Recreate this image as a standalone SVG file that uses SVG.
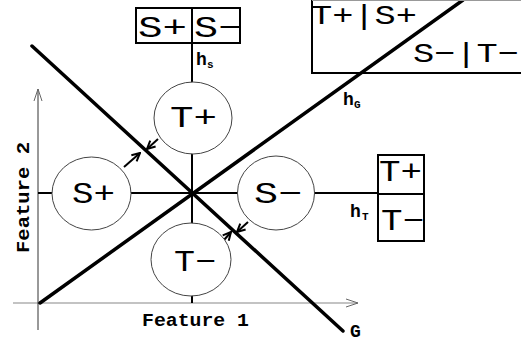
<svg xmlns="http://www.w3.org/2000/svg" width="521" height="341" viewBox="0 0 521 341">
<defs>
<style>
.t{font-family:"Liberation Mono","DejaVu Sans Mono",monospace;fill:#000}
.big{font-size:30px}
.top{font-size:28px}
.lbl{font-size:18px;font-weight:bold}
.sub{font-size:11px;font-weight:bold}
.bx{fill:#fff;stroke:#000;stroke-width:2}
.cir{fill:#fff;stroke:#444;stroke-width:1}
.thick{stroke:#000;stroke-width:2;fill:none}
.diag{stroke:#000;stroke-width:3.5;fill:none;stroke-linecap:round}
.axis{stroke:#888;stroke-width:1.2;fill:none}
.axisv{stroke:#333;stroke-width:1;fill:none}
.arr{stroke:#000;stroke-width:2;fill:none}
</style>
<marker id="ah" markerWidth="10" markerHeight="10" refX="9" refY="5" orient="auto" markerUnits="userSpaceOnUse">
<path d="M1,1 L9,5 L1,9" fill="none" stroke="#000" stroke-width="2"/>
</marker>
<marker id="axh" markerWidth="14" markerHeight="10" refX="13" refY="5" orient="auto" markerUnits="userSpaceOnUse">
<path d="M1,1 L13,5 L1,9" fill="none" stroke="#666" stroke-width="1"/>
</marker>
</defs>
<rect width="521" height="341" fill="#fff"/>
<g id="axes">
<line class="axis" x1="13" y1="303" x2="358" y2="303" marker-end="url(#axh)"/>
<line class="axisv" x1="38" y1="330" x2="38" y2="89" marker-end="url(#axh)"/>
<text class="t lbl" x="142" y="326" textLength="107" lengthAdjust="spacingAndGlyphs">Feature 1</text>
<text class="t lbl" transform="translate(29,197) rotate(-90)" x="-56" y="0" textLength="111" lengthAdjust="spacingAndGlyphs">Feature 2</text>
</g>
<g id="connectors">
<line class="thick" x1="38" y1="193" x2="378" y2="193"/>
<line class="thick" x1="192" y1="43" x2="192" y2="303"/>
<line class="diag" x1="32" y1="46" x2="343" y2="331"/>
<line class="diag" x1="40" y1="303" x2="463" y2="0"/>
<line class="arr" x1="124" y1="167" x2="140" y2="153" marker-end="url(#ah)"/>
<line class="arr" x1="158" y1="139" x2="147" y2="149" marker-end="url(#ah)"/>
<line class="arr" x1="248" y1="222" x2="237" y2="232" marker-end="url(#ah)"/>
<line class="arr" x1="224" y1="240" x2="231" y2="232" marker-end="url(#ah)"/>
</g>
<g id="node-Tplus">
<ellipse class="cir" cx="193" cy="118" rx="39" ry="36"/>
<text class="t big" x="170" y="127" textLength="47" lengthAdjust="spacingAndGlyphs">T+</text>
</g>
<g id="node-Splus">
<ellipse class="cir" cx="91.5" cy="193.5" rx="39.5" ry="36.5"/>
<text class="t big" x="72" y="203" textLength="43" lengthAdjust="spacingAndGlyphs">S+</text>
</g>
<g id="node-Sminus">
<ellipse class="cir" cx="276" cy="193" rx="38.5" ry="37"/>
<text class="t big" x="254" y="203" textLength="48" lengthAdjust="spacingAndGlyphs">S−</text>
</g>
<g id="node-Tminus">
<ellipse class="cir" cx="191" cy="259.5" rx="40" ry="36.5"/>
<text class="t big" x="174" y="271" textLength="42" lengthAdjust="spacingAndGlyphs">T−</text>
</g>
<g id="node-hS">
<rect class="bx" x="136" y="8" width="104" height="35"/>
<line class="thick" x1="192" y1="8" x2="192" y2="43"/>
<text class="t big" x="138" y="37" textLength="49" lengthAdjust="spacingAndGlyphs">S+</text>
<text class="t big" x="194" y="37" textLength="48" lengthAdjust="spacingAndGlyphs">S−</text>
<text class="t lbl" x="196" y="65">h</text>
<text class="t sub" x="207" y="68">s</text>
</g>
<g id="node-hT">
<rect class="bx" x="378" y="155" width="46" height="86"/>
<line class="thick" x1="378" y1="194" x2="424" y2="194"/>
<text class="t big" x="379" y="181" textLength="43" lengthAdjust="spacingAndGlyphs">T+</text>
<text class="t big" x="381" y="230" textLength="43" lengthAdjust="spacingAndGlyphs">T−</text>
<text class="t lbl" x="350" y="217">h</text>
<text class="t sub" x="362" y="220">T</text>
</g>
<g id="node-hG">
<rect x="312" y="0" width="212" height="73" fill="none" stroke="#000" stroke-width="2"/>
<line x1="312" y1="0.5" x2="521" y2="0.5" stroke="#999" stroke-width="1"/>
<text class="t top" x="311" y="24" textLength="106" lengthAdjust="spacingAndGlyphs">T+|S+</text>
<text class="t top" x="413" y="62" textLength="106" lengthAdjust="spacingAndGlyphs">S−|T−</text>
<text class="t lbl" x="343" y="105">h</text>
<text class="t sub" x="354" y="108">G</text>
</g>
<g id="label-G">
<text class="t lbl" x="350" y="337">G</text>
</g>
</svg>
